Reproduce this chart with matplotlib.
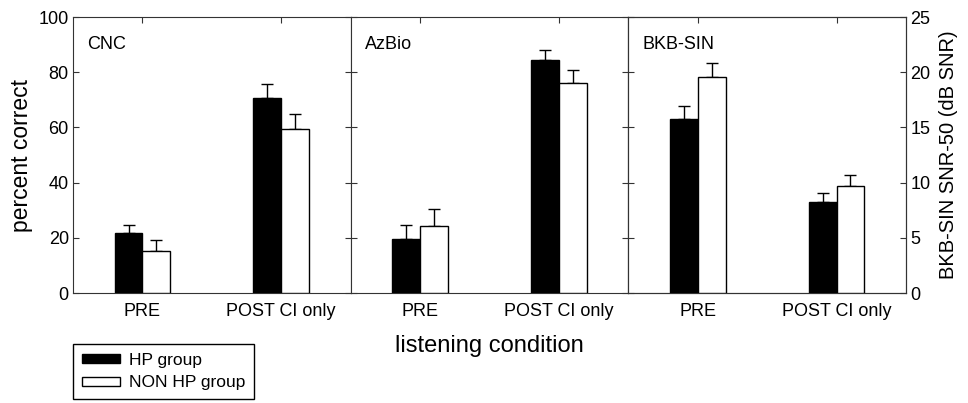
import numpy as np
import matplotlib
matplotlib.use("Agg")
import matplotlib.pyplot as plt
from matplotlib.patches import Patch

plt.rcParams['font.family'] = ['Liberation Sans', 'DejaVu Sans']

conditions = ["PRE", "POST CI only"]
tests = ["CNC", "AzBio", "BKB-SIN"]

# percent correct (CNC, AzBio), dB SNR (BKB-SIN)
hp_mean = {"CNC": [21.7, 70.8], "AzBio": [19.4, 84.3], "BKB-SIN": [15.8, 8.2]}
hp_err = {"CNC": [2.9, 4.9], "AzBio": [5.2, 3.7], "BKB-SIN": [1.15, 0.9]}
non_mean = {"CNC": [15.3, 59.6], "AzBio": [24.3, 76.2], "BKB-SIN": [19.6, 9.7]}
non_err = {"CNC": [3.9, 5.3], "AzBio": [6.0, 4.6], "BKB-SIN": [1.2, 0.95]}

W, H = 968, 403
fig = plt.figure(figsize=(W / 100, H / 100), dpi=100)

left_px, right_px, top_px, bot_px = 73, 906, 17, 293
pw = (right_px - left_px) / 3.0
spine_col = "#333333"
bw = 0.2
x = np.arange(1, len(conditions) + 1)

axes = []
for i, t in enumerate(tests):
    ax = fig.add_axes([(left_px + i * pw) / W, 1 - bot_px / H, pw / W, (bot_px - top_px) / H])
    axes.append(ax)
    if t == "BKB-SIN":
        pax = ax.twinx()
        pax.set_ylim(0, 25)
        pax.set_yticks([0, 5, 10, 15, 20, 25])
        pax.tick_params(axis='y', direction='in', length=4, labelsize=13, pad=3, color=spine_col)
        pax.set_ylabel("BKB-SIN SNR-50 (dB SNR)", fontsize=14.5, labelpad=6)
        for s in pax.spines.values():
            s.set_color(spine_col)
    else:
        pax = ax
    pax.bar(x - bw / 2, hp_mean[t], bw, color="black", edgecolor="black", linewidth=1, zorder=3)
    pax.bar(x + bw / 2, non_mean[t], bw, color="white", edgecolor="black", linewidth=1, zorder=3)
    pax.errorbar(x - bw / 2, hp_mean[t], yerr=[np.zeros(2), hp_err[t]], fmt='none',
                 ecolor="black", elinewidth=1, capsize=4, capthick=1, zorder=2)
    pax.errorbar(x + bw / 2, non_mean[t], yerr=[np.zeros(2), non_err[t]], fmt='none',
                 ecolor="black", elinewidth=1, capsize=4, capthick=1, zorder=2)

    ax.set_xlim(0.5, 2.5)
    ax.set_ylim(0, 100)
    ax.set_xticks(x)
    ax.set_xticklabels(conditions, fontsize=13)
    ax.set_yticks([0, 20, 40, 60, 80, 100])
    ax.tick_params(direction='in', length=4, top=True, right=(t != "BKB-SIN"),
                   color=spine_col, labelsize=13, pad=7)
    if i > 0:
        ax.tick_params(axis='y', labelleft=False)
    for s in ax.spines.values():
        s.set_color(spine_col)
    ax.text(0.05, 0.93, t, transform=ax.transAxes, fontsize=13, va='top', ha='left')

axes[0].tick_params(axis='y', pad=3)
axes[0].set_ylabel("percent correct", fontsize=16.5, labelpad=4)
axes[1].set_xlabel("listening condition", fontsize=17, labelpad=11)

handles = [Patch(facecolor="black", edgecolor="black", label="HP group"),
           Patch(facecolor="white", edgecolor="black", label="NON HP group")]
fig.legend(handles=handles, loc="upper left", bbox_to_anchor=(73 / W, 1 - 344 / H),
           fontsize=12.5, frameon=True, fancybox=False, edgecolor="black",
           handlelength=2.2, handleheight=0.45, handletextpad=0.5,
           borderpad=0.5, labelspacing=0.45, borderaxespad=0, framealpha=1)

fig.savefig("out.png", dpi=100)
